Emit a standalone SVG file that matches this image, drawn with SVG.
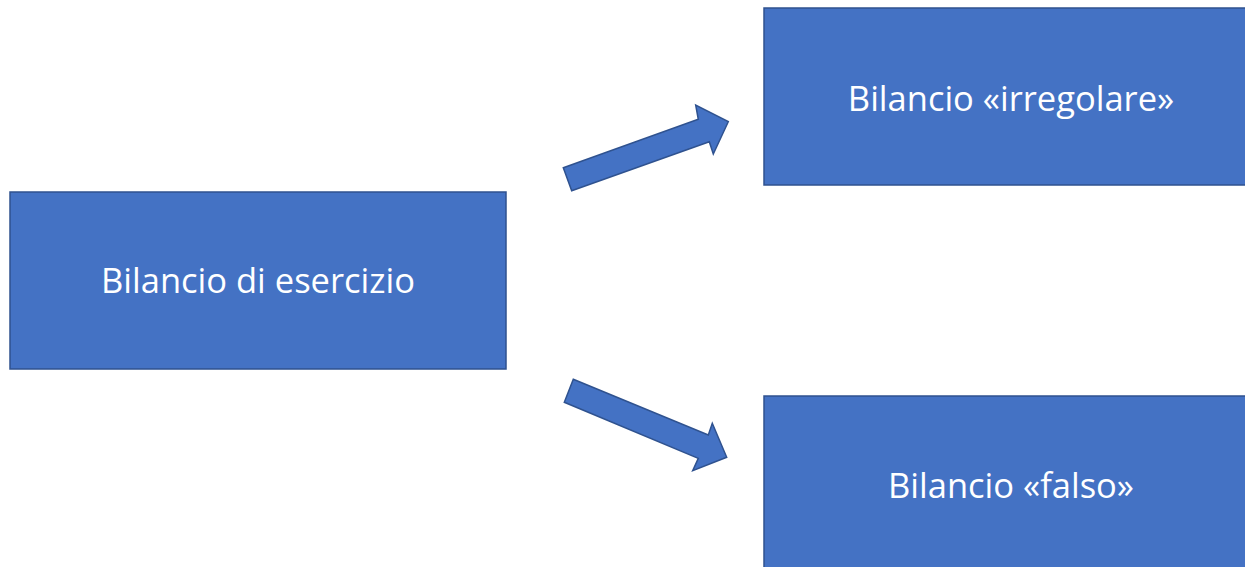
<svg xmlns="http://www.w3.org/2000/svg" width="1245" height="567" viewBox="0 0 1245 567">
<style>
.box{fill:#4472C4;stroke:#2F528F;stroke-width:1.5}
.arrow{fill:#4472C4;stroke:#2F528F;stroke-width:1.5;stroke-linejoin:miter}
.lbl{font-family:"Open Sans","Noto Sans",sans-serif;font-size:34.5px;fill:#FFFFFF;text-anchor:middle}
</style>
<rect x="0" y="0" width="1245" height="567" fill="#FFFFFF"/>
<g id="node-esercizio">
<rect class="box" x="10" y="192" width="496" height="177"/>
<text class="lbl" x="258" y="293">Bilancio di esercizio</text>
</g>
<g id="node-irregolare">
<rect class="box" x="764" y="8" width="494" height="177"/>
<text class="lbl" x="1011" y="111">Bilancio «irregolare»</text>
</g>
<g id="node-falso">
<rect class="box" x="764" y="396" width="494" height="180"/>
<text class="lbl" x="1011" y="498">Bilancio «falso»</text>
</g>
<g id="connectors">
<polygon class="arrow" points="563.3,167.7 698.3,119.3 695.7,105 728.3,121.7 713.3,154 709.3,141.7 571.7,190.7"/>
<polygon class="arrow" points="573.3,379.3 708.3,435 712.3,423.3 726.7,457.3 692.7,470.7 698.3,458.3 564.3,402.3"/>
</g>
</svg>
